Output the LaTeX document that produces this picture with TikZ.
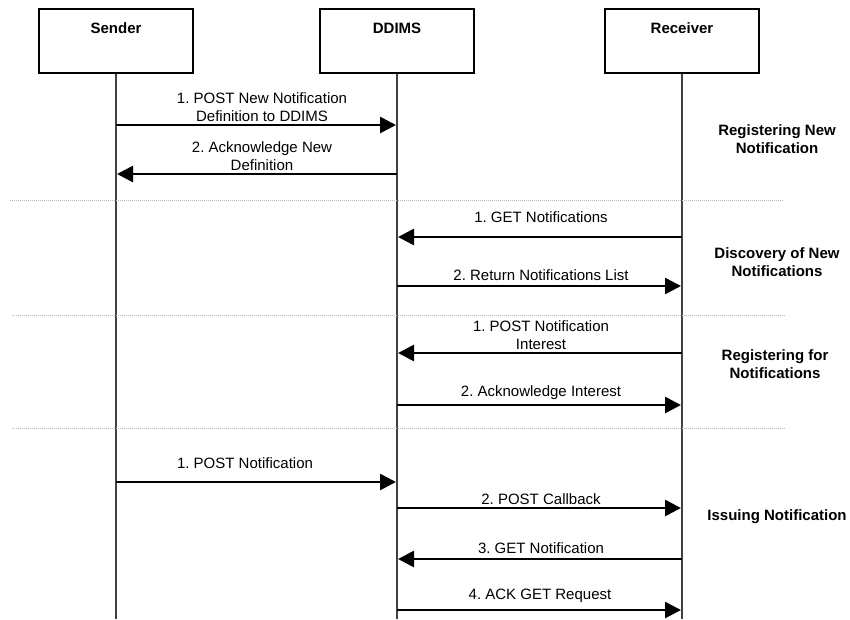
\documentclass[tikz,border=0pt]{standalone}
\usepackage{fontspec}
\setmainfont{Liberation Sans}
\usetikzlibrary{arrows.meta}
\definecolor{lifegray}{RGB}{65,65,65}
\definecolor{sepgray}{RGB}{185,185,185}
\frenchspacing
\begin{document}
\begin{tikzpicture}[x=1pt,y=-1pt,
  actorbox/.style={draw=black,line width=2.4pt,minimum width=154pt,minimum height=64pt,inner sep=0pt,anchor=north},
  actorname/.style={font=\fontsize{15}{18}\selectfont\bfseries,inner sep=0pt},
  lifeline/.style={draw=lifegray,line width=2.8pt},
  msg/.style={draw=black,line width=2.7pt,-{Triangle[length=16pt,width=16pt]},shorten >=1pt},
  msglbl/.style={font=\fontsize{15}{18}\selectfont,align=center,inner sep=0pt},
  phase/.style={font=\fontsize{15}{18}\selectfont\bfseries,align=center,inner sep=0pt},
  separator/.style={draw=sepgray,line width=1pt,dash pattern=on 1pt off 1pt}]

% frame of the picture
\useasboundingbox (0,0) rectangle (850,619);

% participants
\node[actorbox] (S) at (116,8) {};
\node[actorbox] (D) at (397,8) {};
\node[actorbox] (R) at (682,8) {};
\node[actorname] (Sname) at (116,28) {Sender};
\node[actorname] (Dname) at (397,28) {DDIMS};
\node[actorname] (Rname) at (682,28) {Receiver};

% lifelines
\coordinate (Sbot) at (116,619);
\coordinate (Dbot) at (397,619);
\coordinate (Rbot) at (682,619);
\draw[lifeline] (S.south) -- (Sbot);
\draw[lifeline] (D.south) -- (Dbot);
\draw[lifeline] (R.south) -- (Rbot);

% phase separators
\coordinate (sep1a) at (10,200);  \coordinate (sep1b) at (783,200);
\coordinate (sep2a) at (12,315);  \coordinate (sep2b) at (785,315);
\coordinate (sep3a) at (12,428);  \coordinate (sep3b) at (785,428);
\draw[separator] (sep1a) -- (sep1b);
\draw[separator] (sep2a) -- (sep2b);
\draw[separator] (sep3a) -- (sep3b);

% --- Registering New Notification
\coordinate (m1s) at (116,125); \coordinate (m1d) at (397,125);
\draw[msg] (m1s) -- (m1d);
\node[msglbl] (l1) at (262,107) {1. POST New Notification\\Definition to DDIMS};
\coordinate (m2d) at (397,174); \coordinate (m2s) at (116,174);
\draw[msg] (m2d) -- (m2s);
\node[msglbl] (l2) at (262,156) {2. Acknowledge New\\Definition};
\node[phase] (p1) at (777,139) {Registering New\\Notification};

% --- Discovery of New Notifications
\coordinate (m3r) at (682,237); \coordinate (m3d) at (397,237);
\draw[msg] (m3r) -- (m3d);
\node[msglbl] (l3) at (541,217) {1. GET Notifications};
\coordinate (m4d) at (397,286); \coordinate (m4r) at (682,286);
\draw[msg] (m4d) -- (m4r);
\node[msglbl] (l4) at (541,275) {2. Return Notifications List};
\node[phase] (p2) at (777,262) {Discovery of New\\Notifications};

% --- Registering for Notifications
\coordinate (m5r) at (682,353); \coordinate (m5d) at (397,353);
\draw[msg] (m5r) -- (m5d);
\node[msglbl] (l5) at (541,335) {1. POST Notification\\Interest};
\coordinate (m6d) at (397,405); \coordinate (m6r) at (682,405);
\draw[msg] (m6d) -- (m6r);
\node[msglbl] (l6) at (541,393) {2. Acknowledge Interest};
\node[phase] (p3) at (775,364) {Registering for\\Notifications};

% --- Issuing Notification
\coordinate (m7s) at (116,482); \coordinate (m7d) at (397,482);
\draw[msg] (m7s) -- (m7d);
\node[msglbl] (l7) at (245,463) {1. POST Notification};
\coordinate (m8d) at (397,508); \coordinate (m8r) at (682,508);
\draw[msg] (m8d) -- (m8r);
\node[msglbl] (l8) at (541,499) {2. POST Callback};
\coordinate (m9r) at (682,559); \coordinate (m9d) at (397,559);
\draw[msg] (m9r) -- (m9d);
\node[msglbl] (l9) at (541,548) {3. GET Notification};
\coordinate (m10d) at (397,610); \coordinate (m10r) at (682,610);
\draw[msg] (m10d) -- (m10r);
\node[msglbl] (l10) at (540,596) {4. ACK GET Request};
\node[phase] (p4) at (777,517) {Issuing Notification};
\end{tikzpicture}
\end{document}
